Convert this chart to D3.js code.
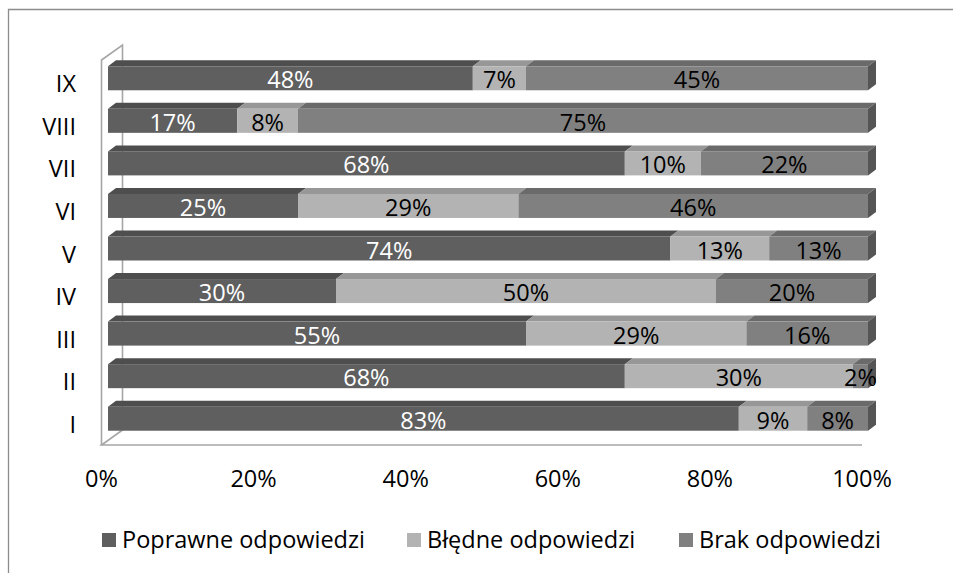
<!DOCTYPE html>
<html>
<head>
<meta charset="utf-8">
<script src="https://cdn.jsdelivr.net/npm/d3@7"></script>
<style>
  html, body { margin: 0; padding: 0; background: #ffffff; }
  svg { display: block; }
  text { font-family: "Open Sans", "Noto Sans", sans-serif; }
</style>
</head>
<body>
<svg id="chart" width="953" height="573"></svg>
<script>
// Question groups, bottom to top
const categories = ["I", "II", "III", "IV", "V", "VI", "VII", "VIII", "IX"];
// Share of answers per question (%)
const poprawne = [83, 68, 55, 30, 74, 25, 68, 17, 48];
const bledne   = [9, 30, 29, 50, 13, 29, 10, 8, 7];
const brak     = [8, 2, 16, 20, 13, 46, 22, 75, 45];
const seriesNames = ["Poprawne odpowiedzi", "Błędne odpowiedzi", "Brak odpowiedzi"];
const xTicks = [0, 20, 40, 60, 80, 100];

const seriesValues = [poprawne, bledne, brak];
const frontColors = ["#5f5f5f", "#b3b3b3", "#808080"];
const topColors   = ["#4e4e4e", "#979797", "#6a6a6a"];
const sideColor = "#555555";
const labelColors = ["#ffffff", "#000000", "#000000"];

const svg = d3.select("#chart");
const FS = 23.5;

// outer chart frame (top and left edges)
svg.append("path")
  .attr("d", "M8.5,573 L8.5,9.5 L953,9.5")
  .attr("fill", "none").attr("stroke", "#8c8c8c").attr("stroke-width", 1.3);

// floor / front plane scale (axis) and bar plane scale
const xAxis = d3.scaleLinear().domain([0, 100]).range([101.5, 862]);
const x = d3.scaleLinear().domain([0, 100]).range([108, 868]);
const y = d3.scaleBand().domain(categories).range([440, 57]);
const bw = y.bandwidth();

// 3D box depth
const wdx = 21, wdy = -15;
const frontTop = 60, frontBottom = 445;

const walls = svg.append("g").attr("fill", "none").attr("stroke", "#a6a6a6").attr("stroke-width", 1.6);
// side wall
walls.append("path")
  .attr("d", `M${xAxis(0)},${frontBottom} L${xAxis(0)},${frontTop} L${xAxis(0) + wdx},${frontTop + wdy} L${xAxis(0) + wdx},${frontBottom + wdy}`);
// floor edges
walls.append("path")
  .attr("d", `M${xAxis(0) + wdx},${frontBottom + wdy} L${xAxis(0)},${frontBottom} L${xAxis(100)},${frontBottom}`);

// bars
const bdx = 8, bdy = -6, bh = 24;
const barsG = svg.append("g");
categories.forEach((cat, i) => {
  const c = y(cat) + bw / 2;
  const t = c - bh / 2, b = c + bh / 2;
  let acc = 0;
  seriesValues.forEach((vals, s) => {
    const v = vals[i];
    const x0 = x(acc), x1 = x(acc + v);
    acc += v;
    // top face
    barsG.append("path")
      .attr("d", `M${x0},${t} L${x0 + bdx},${t + bdy} L${x1 + bdx},${t + bdy} L${x1},${t} Z`)
      .attr("fill", topColors[s]);
    // front face
    barsG.append("rect")
      .attr("x", x0).attr("y", t).attr("width", x1 - x0).attr("height", bh)
      .attr("fill", frontColors[s]);
    if (s === seriesValues.length - 1) {
      barsG.append("path")
        .attr("d", `M${x1},${t} L${x1 + bdx},${t + bdy} L${x1 + bdx},${b + bdy} L${x1},${b} Z`)
        .attr("fill", sideColor);
    }
  });
  // value labels
  acc = 0;
  seriesValues.forEach((vals, s) => {
    const v = vals[i];
    const xm = x(acc + v / 2);
    acc += v;
    barsG.append("text")
      .attr("x", xm).attr("y", c + 10)
      .attr("text-anchor", "middle")
      .attr("font-size", FS)
      .attr("fill", labelColors[s])
      .text(v + "%");
  });
});

// category labels
svg.append("g").selectAll("text").data(categories).join("text")
  .attr("x", 76)
  .attr("y", d => y(d) + bw / 2 + 14)
  .attr("text-anchor", "end")
  .attr("font-size", FS)
  .attr("fill", "#000")
  .text(d => d);

// x tick labels
svg.append("g").selectAll("text").data(xTicks).join("text")
  .attr("x", d => xAxis(d))
  .attr("y", 487)
  .attr("text-anchor", "middle")
  .attr("font-size", FS)
  .attr("fill", "#000")
  .text(d => d + "%");

// legend
const legendX = [102, 407, 679];
const lg = svg.append("g");
seriesNames.forEach((name, s) => {
  lg.append("rect")
    .attr("x", legendX[s]).attr("y", 533).attr("width", 14).attr("height", 14)
    .attr("fill", frontColors[s]);
  lg.append("text")
    .attr("x", legendX[s] + 20).attr("y", 548)
    .attr("font-size", FS)
    .attr("fill", "#000")
    .text(name);
});
</script>
</body>
</html>
